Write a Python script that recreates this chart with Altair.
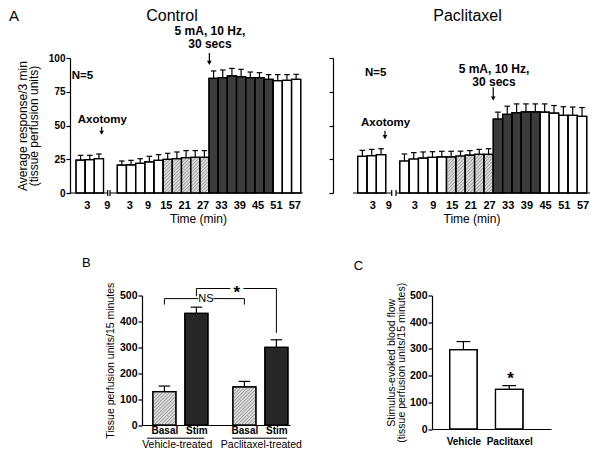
import math
import altair as alt
import pandas as pd

FONT = "Liberation Sans"

# ---------------- Panel A data ----------------
ctrl_pre_values = [24.4, 24.7, 25.4]
ctrl_pre_sem = [3.5, 3.2, 3.5]
ctrl_values = [20.7, 20.9, 22.0, 23.0, 24.2, 24.9, 25.4, 26.2, 26.4, 26.4,
               84.9, 85.4, 86.7, 86.2, 85.4, 85.4, 84.2, 83.2, 83.5, 84.2]
ctrl_sem = [3.0, 3.3, 3.4, 4.2, 4.2, 4.5, 5.0, 5.2, 5.0, 5.0,
            5.5, 5.7, 5.6, 5.4, 4.2, 3.7, 3.5, 4.5, 4.2, 3.7]
ctrl_phase = ["white"] * 5 + ["hatch"] * 5 + ["dark"] * 7 + ["white"] * 3

pac_pre_values = [27.2, 27.7, 28.4]
pac_pre_sem = [4.4, 4.6, 4.4]
pac_values = [23.7, 25.2, 25.9, 26.4, 26.7, 26.8, 27.4, 28.1, 28.7, 28.6,
              54.8, 58.2, 59.5, 60.1, 60.1, 59.9, 59.2, 57.6, 57.6, 56.8]
pac_sem = [5.2, 4.7, 4.5, 4.2, 4.2, 4.1, 3.6, 3.3, 3.6, 4.2,
           5.1, 6.1, 6.5, 5.9, 5.9, 6.1, 5.6, 6.3, 6.1, 6.5]
pac_phase = ["white"] * 5 + ["hatch"] * 5 + ["dark"] * 5 + ["white"] * 5

pre_tick_labels = ["3", "9"]
time_tick_labels = [3, 9, 15, 21, 27, 33, 39, 45, 51, 57]
y_ticks_a = [0, 25, 50, 75, 100]

# ---------------- Panel B data ----------------
b_positions = [1.0, 2.0, 3.5, 4.5]
b_labels = ["Basal", "Stim", "Basal", "Stim"]
b_values = [128.5, 431.0, 147.0, 300.0]
b_sem = [21.8, 24.0, 21.4, 29.0]
b_kind = ["hatch", "dark2", "hatch", "dark2"]
b_groups = ["Vehicle-treated", "Paclitaxel-treated"]

# ---------------- Panel C data ----------------
c_positions = [1.0, 2.0]
c_labels = ["Vehicle", "Paclitaxel"]
c_values = [297.5, 148.75]
c_sem = [30.0, 13.75]

y_ticks_bc = [0, 100, 200, 300, 400, 500]

FILL_SCALE = alt.Scale(domain=["white", "hatch", "dark", "dark2"],
                       range=["#ffffff", "#dadada", "#3c3c3c", "#262626"])


def label_expr(positions, labels):
    expr = "''"
    for p, l in reversed(list(zip(positions, labels))):
        expr = f"abs(datum.value - {p}) < 0.01 ? '{l}' : {expr}"
    return expr


def txt_px(text, x, y, size, weight="normal", align="left"):
    return alt.Chart(pd.DataFrame({"t": [text]})).mark_text(
        font=FONT, fontSize=size, fontWeight=weight, align=align,
        baseline="alphabetic", color="black"
    ).encode(text="t:N", x=alt.value(x), y=alt.value(y))


def extent_marker(y):
    # invisible mark that fixes the vertical extent of a row for the layout
    return alt.Chart(pd.DataFrame({"z": [0]})).mark_rule(opacity=0, strokeOpacity=0).encode(
        x=alt.value(0), y=alt.value(y), y2=alt.value(y + 1))


class Pos:
    def __init__(self, xs, ys, xaxis, yaxis, ppx, ppy):
        self.xs, self.ys, self.xaxis, self.yaxis = xs, ys, xaxis, yaxis
        self.ppx, self.ppy = ppx, ppy  # pixels per data unit (for the hatch)

    def X(self, f):
        return alt.X(f, scale=self.xs, axis=self.xaxis)

    def Y(self, f):
        return alt.Y(f, scale=self.ys, axis=self.yaxis)


def hatch_lines(df, half, P, spacing=2.4):
    """Diagonal '/' hatch segments clipped to each hatched bar."""
    rows = []
    W = 2 * half * P.ppx
    step = spacing * math.sqrt(2)
    for u, v, ph in zip(df["u"], df["v"], df["phase"]):
        if ph != "hatch":
            continue
        H = v * P.ppy
        xl = u - half
        c = -W + step / 2
        while c < H:
            p0, p1 = max(0.0, -c), min(W, H - c)
            if p1 > p0:
                rows.append(dict(xa=xl + p0 / P.ppx, ya=(p0 + c) / P.ppy,
                                 xb=xl + p1 / P.ppx, yb=(p1 + c) / P.ppy))
            c += step
    return pd.DataFrame(rows)


def bars_with_errors(df, P, half, cap, stroke_w=1.2):
    calc = dict(x0=f"datum.u - {half}", x1=f"datum.u + {half}", base="0")
    bars = alt.Chart(df).transform_calculate(**calc).mark_rect(
        stroke="black", strokeWidth=stroke_w).encode(
        x=P.X("x0:Q"), x2="x1:Q", y=P.Y("base:Q"), y2="v:Q",
        fill=alt.Fill("phase:N", scale=FILL_SCALE, legend=None),
    )
    hatch = alt.Chart(hatch_lines(df, half, P)).mark_rule(
        color="#7a7a7a", strokeWidth=0.7).encode(
        x=P.X("xa:Q"), y=P.Y("ya:Q"), x2="xb:Q", y2="yb:Q")
    outline = alt.Chart(df).transform_calculate(**calc).mark_rect(
        fillOpacity=0, stroke="black", strokeWidth=stroke_w).encode(
        x=P.X("x0:Q"), x2="x1:Q", y=P.Y("base:Q"), y2="v:Q")
    err = alt.Chart(df).transform_calculate(top="datum.v + datum.sem").mark_rule(
        color="black", strokeWidth=1.2
    ).encode(x=P.X("u:Q"), y=P.Y("v:Q"), y2="top:Q")
    caps = alt.Chart(df).transform_calculate(
        top="datum.v + datum.sem", c0=f"datum.u - {cap}", c1=f"datum.u + {cap}"
    ).mark_rule(color="black", strokeWidth=1.2).encode(
        x=P.X("c0:Q"), x2="c1:Q", y=P.Y("top:Q"))
    return [bars, hatch, outline, err, caps]


GROUP2_START = 4.5
A_HEIGHT = 135


def panel_a(pre_vals, pre_sem, vals, sem, phase, dom, width, pre_tick_pos,
            tick_shift, brk, notes, title_text, title_px, show_y, title_x=None,
            letter=None):
    rows = [dict(u=i, v=v, sem=s, phase="white")
            for i, (v, s) in enumerate(zip(pre_vals, pre_sem))]
    rows += [dict(u=GROUP2_START + k, v=v, sem=s, phase=p)
             for k, (v, s, p) in enumerate(zip(vals, sem, phase))]
    df = pd.DataFrame(rows)

    xs = alt.Scale(domain=dom, nice=False, zero=False)
    ys = alt.Scale(domain=[0, 100], nice=False, zero=False)

    tick_pos = [round(p, 3) for p in pre_tick_pos] + \
        [round(GROUP2_START + t / 3 + tick_shift, 3) for t in time_tick_labels]
    tick_lab = pre_tick_labels + [str(t) for t in time_tick_labels]
    xkw = dict(values=tick_pos, labelExpr=label_expr(tick_pos, tick_lab),
               domain=False, ticks=False, grid=False, labelFontSize=11,
               labelFontWeight="bold", labelPadding=6, labelOverlap=False,
               title="Time (min)", titleFontSize=12, titleFontWeight="normal",
               titlePadding=3)
    if title_x is not None:
        xkw["titleX"] = title_x
    xaxis = alt.Axis(**xkw)
    if show_y:
        yaxis = alt.Axis(values=y_ticks_a, grid=False, tickSize=4,
                         labelFontSize=10, labelFontWeight="bold", labelPadding=1,
                         title=["Average  response/3 min", "(tissue perfusion units)"],
                         titleFontSize=12, titleFontWeight="normal",
                         titleLineHeight=11, titlePadding=8)
    else:
        yaxis = alt.Axis(values=y_ticks_a, grid=False, tickSize=4, labels=False,
                         title=None, offset=20)
    P = Pos(xs, ys, xaxis, yaxis, width / (dom[1] - dom[0]), A_HEIGHT / 100)

    layers = bars_with_errors(df, P, 0.5, 0.3)

    seg = pd.DataFrame({"a": [dom[0], brk[1]], "b": [brk[0], dom[1]], "y": [0, 0]})
    layers.append(alt.Chart(seg).mark_rule(color="black", strokeWidth=1.2).encode(
        x=P.X("a:Q"), x2="b:Q", y=P.Y("y:Q")))
    bk = pd.DataFrame({"u": list(brk), "lo": [-2.2, -2.2], "hi": [2.2, 2.2]})
    layers.append(alt.Chart(bk).mark_rule(color="black", strokeWidth=1.2).encode(
        x=P.X("u:Q"), y=P.Y("lo:Q"), y2="hi:Q"))

    left_notes = pd.DataFrame({
        "u": [notes["n_x"], notes["axo_x"]],
        "y": [notes["n_y"], notes["axo_y"]],
        "t": ["N=5", "Axotomy"]})
    layers.append(alt.Chart(left_notes).mark_text(
        font=FONT, fontSize=11.5, fontWeight="bold", align="left",
        baseline="middle", color="black").encode(
        x=P.X("u:Q"), y=P.Y("y:Q"), text="t:N"))
    stim_notes = pd.DataFrame({
        "u": [notes["stim_x"], notes["stim_x"]],
        "y": [notes["stim_y1"], notes["stim_y2"]],
        "t": ["5 mA, 10 Hz,", "30 secs"]})
    layers.append(alt.Chart(stim_notes).mark_text(
        font=FONT, fontSize=12, fontWeight="bold", align="center",
        baseline="middle", color="black").encode(
        x=P.X("u:Q"), y=P.Y("y:Q"), text="t:N"))

    arrows = pd.DataFrame({
        "u": [notes["axo_ax"], notes["stim_ax"]],
        "top": [notes["axo_top"], notes["stim_top"]],
        "tip": [notes["axo_tip"], notes["stim_tip"]]})
    layers.append(alt.Chart(arrows).transform_calculate(
        shaft="datum.tip + 2").mark_rule(color="black", strokeWidth=1.2).encode(
        x=P.X("u:Q"), y=P.Y("top:Q"), y2="shaft:Q"))
    layers.append(alt.Chart(arrows).transform_calculate(
        head="datum.tip + 1.6").mark_point(
        shape="triangle-down", filled=True, size=22, color="black", opacity=1).encode(
        x=P.X("u:Q"), y=P.Y("head:Q")))

    layers.append(txt_px(title_text, title_px, -37, 16, align="center"))
    if letter:
        layers.append(txt_px(letter, -61, -37, 15))
    layers.append(extent_marker(180))
    return alt.layer(*layers).properties(width=width, height=A_HEIGHT)


ctrl_notes = dict(n_x=-0.97, n_y=86.7, axo_x=-0.31, axo_y=54.1,
                  axo_ax=2.3, axo_top=48.9, axo_tip=43.0,
                  stim_x=14.1, stim_y1=120.0, stim_y2=110.4,
                  stim_ax=14.04, stim_top=103.7, stim_tip=94.8)
pac_notes = dict(n_x=0.28, n_y=89.0, axo_x=-0.15, axo_y=51.9,
                 axo_ax=2.42, axo_top=46.1, axo_tip=39.8,
                 stim_x=14.08, stim_y1=92.0, stim_y2=82.4,
                 stim_ax=14.0, stim_top=78.3, stim_tip=68.4)

ctrl = panel_a(ctrl_pre_values, ctrl_pre_sem, ctrl_values, ctrl_sem, ctrl_phase,
               [-1.154, 24.25], 233, [0.67, 2.85], -0.2, (2.96, 3.21), ctrl_notes,
               "Control", 102, True, title_x=128, letter="A")
pac = panel_a(pac_pre_values, pac_pre_sem, pac_values, pac_sem, pac_phase,
              [-1.0, 24.35], 237, [1.06, 2.77], 0.05, (3.14, 3.6), pac_notes,
              "Paclitaxel", 114.5, False)

# ---------------- Panel B ----------------
B_W, B_H = 148, 129.5
b_dom = [0.3, 4.925]
xs_b = alt.Scale(domain=b_dom, nice=False, zero=False)
ys_b = alt.Scale(domain=[0, 500], nice=False, zero=False)
df_b = pd.DataFrame({"u": b_positions, "v": b_values, "sem": b_sem, "phase": b_kind})
xaxis_b = alt.Axis(values=b_positions, labelExpr=label_expr(b_positions, b_labels),
                   ticks=False, grid=False, labelFontSize=10, labelFontWeight="bold",
                   labelPadding=0, labelOverlap=False, title=None)
yaxis_b = alt.Axis(values=y_ticks_bc, grid=False, tickSize=4, labelFontSize=10.5,
                   labelFontWeight="bold", labelPadding=1,
                   title="Tissue perfusion units/15 minutes", titleFontSize=10.5,
                   titleFontWeight="normal", titlePadding=4)
PB = Pos(xs_b, ys_b, xaxis_b, yaxis_b, B_W / (b_dom[1] - b_dom[0]), B_H / 500)
layers_b = bars_with_errors(df_b, PB, 0.36, 0.18)

b_group_layout = dict(lines=[(0.46, 2.25), (3.12, 4.83)], centers=[1.4, 4.03],
                      line_y=-51.0, text_y=-87.0)
under = pd.DataFrame({"a": [l[0] for l in b_group_layout["lines"]],
                      "b": [l[1] for l in b_group_layout["lines"]],
                      "y": [b_group_layout["line_y"]] * 2})
layers_b.append(alt.Chart(under).mark_rule(color="black", strokeWidth=1).encode(
    x=PB.X("a:Q"), x2="b:Q", y=PB.Y("y:Q")))
grp = pd.DataFrame({"u": b_group_layout["centers"], "y": [b_group_layout["text_y"]] * 2,
                    "t": b_groups})
layers_b.append(alt.Chart(grp).mark_text(font=FONT, fontSize=10.5, baseline="alphabetic",
                                         align="center", color="black").encode(
    x=PB.X("u:Q"), y=PB.Y("y:Q"), text="t:N"))

b_brackets = [
    dict(label="*", level=527, left=2.0, right=4.5, left_drop=497, right_drop=356,
         gap=(3.06, 3.47), text_y=490, size=17, weight="bold", baseline="alphabetic"),
    dict(label="NS", level=488, left=1.0, right=3.5, left_drop=465, right_drop=465,
         gap=(2.06, 2.53), text_y=488, size=11, weight="normal", baseline="middle"),
]
for br in b_brackets:
    segs = pd.DataFrame({
        "a": [br["left"], br["gap"][1], br["left"], br["right"]],
        "b": [br["gap"][0], br["right"], br["left"], br["right"]],
        "y": [br["level"], br["level"], br["left_drop"], br["right_drop"]],
        "y2": [br["level"]] * 4})
    layers_b.append(alt.Chart(segs).mark_rule(color="black", strokeWidth=1).encode(
        x=PB.X("a:Q"), x2="b:Q", y=PB.Y("y:Q"), y2="y2:Q"))
    lab = pd.DataFrame({"u": [(br["gap"][0] + br["gap"][1]) / 2], "y": [br["text_y"]],
                        "t": [br["label"]]})
    layers_b.append(alt.Chart(lab).mark_text(
        font=FONT, fontSize=br["size"], fontWeight=br["weight"], align="center",
        baseline=br["baseline"], color="black").encode(
        x=PB.X("u:Q"), y=PB.Y("y:Q"), text="t:N"))
layers_b.append(txt_px("B", -60, -28.3, 13))
layers_b.append(extent_marker(-50))
panel_b = alt.layer(*layers_b).properties(width=B_W, height=B_H)

# ---------------- Panel C ----------------
C_W, C_H = 119, 133.5
c_dom = [0.314, 2.912]
xs_c = alt.Scale(domain=c_dom, nice=False, zero=False)
ys_c = alt.Scale(domain=[0, 500], nice=False, zero=False)
df_c = pd.DataFrame({"u": c_positions, "v": c_values, "sem": c_sem,
                     "phase": ["white", "white"]})
xaxis_c = alt.Axis(values=c_positions, labelExpr=label_expr(c_positions, c_labels),
                   ticks=False, grid=False, labelFontSize=10, labelFontWeight="bold",
                   labelPadding=7, labelOverlap=False, title=None)
yaxis_c = alt.Axis(values=y_ticks_bc, grid=False, tickSize=4, labelFontSize=10.5,
                   labelFontWeight="bold", labelPadding=1,
                   title=["Stimulus-evoked blood flow", "(tissue perfusion units/15 minutes)"],
                   titleFontSize=10.5, titleFontWeight="normal", titleLineHeight=9.5,
                   titlePadding=3)
PC = Pos(xs_c, ys_c, xaxis_c, yaxis_c, C_W / (c_dom[1] - c_dom[0]), C_H / 500)
layers_c = bars_with_errors(df_c, PC, 0.3, 0.15)
c_star = pd.DataFrame({"u": [2.03], "y": [169], "t": ["*"]})
layers_c.append(alt.Chart(c_star).mark_text(
    font=FONT, fontSize=17, fontWeight="bold", align="center", baseline="alphabetic",
    color="black").encode(x=PC.X("u:Q"), y=PC.Y("y:Q"), text="t:N"))
layers_c.append(txt_px("C", -78.3, -25.7, 13))
panel_c = alt.layer(*layers_c).properties(width=C_W, height=C_H)


def spacer(w):
    return alt.Chart(pd.DataFrame({"z": [0]})).mark_point(opacity=0).encode(
        x=alt.value(0), y=alt.value(0)).properties(width=w, height=10)


row1 = alt.hconcat(ctrl, pac, spacing=50, bounds="flush")
row2 = alt.hconcat(spacer(72), panel_b, spacer(142), panel_c, spacing=0,
                   bounds="flush")
chart = alt.vconcat(row1, row2, spacing=6.5).properties(
    autosize=alt.AutoSizeParams(type="none"),
    padding={"left": 62, "top": 50, "right": 522, "bottom": 391},
).configure_view(stroke=None).configure_axis(
    labelFont=FONT, titleFont=FONT, labelColor="black", titleColor="black",
    domainColor="black", tickColor="black", domainWidth=1.2, tickWidth=1.2, grid=False
).configure_text(font=FONT)

chart.save("out.html", embed_options={"renderer": "svg", "actions": False})
